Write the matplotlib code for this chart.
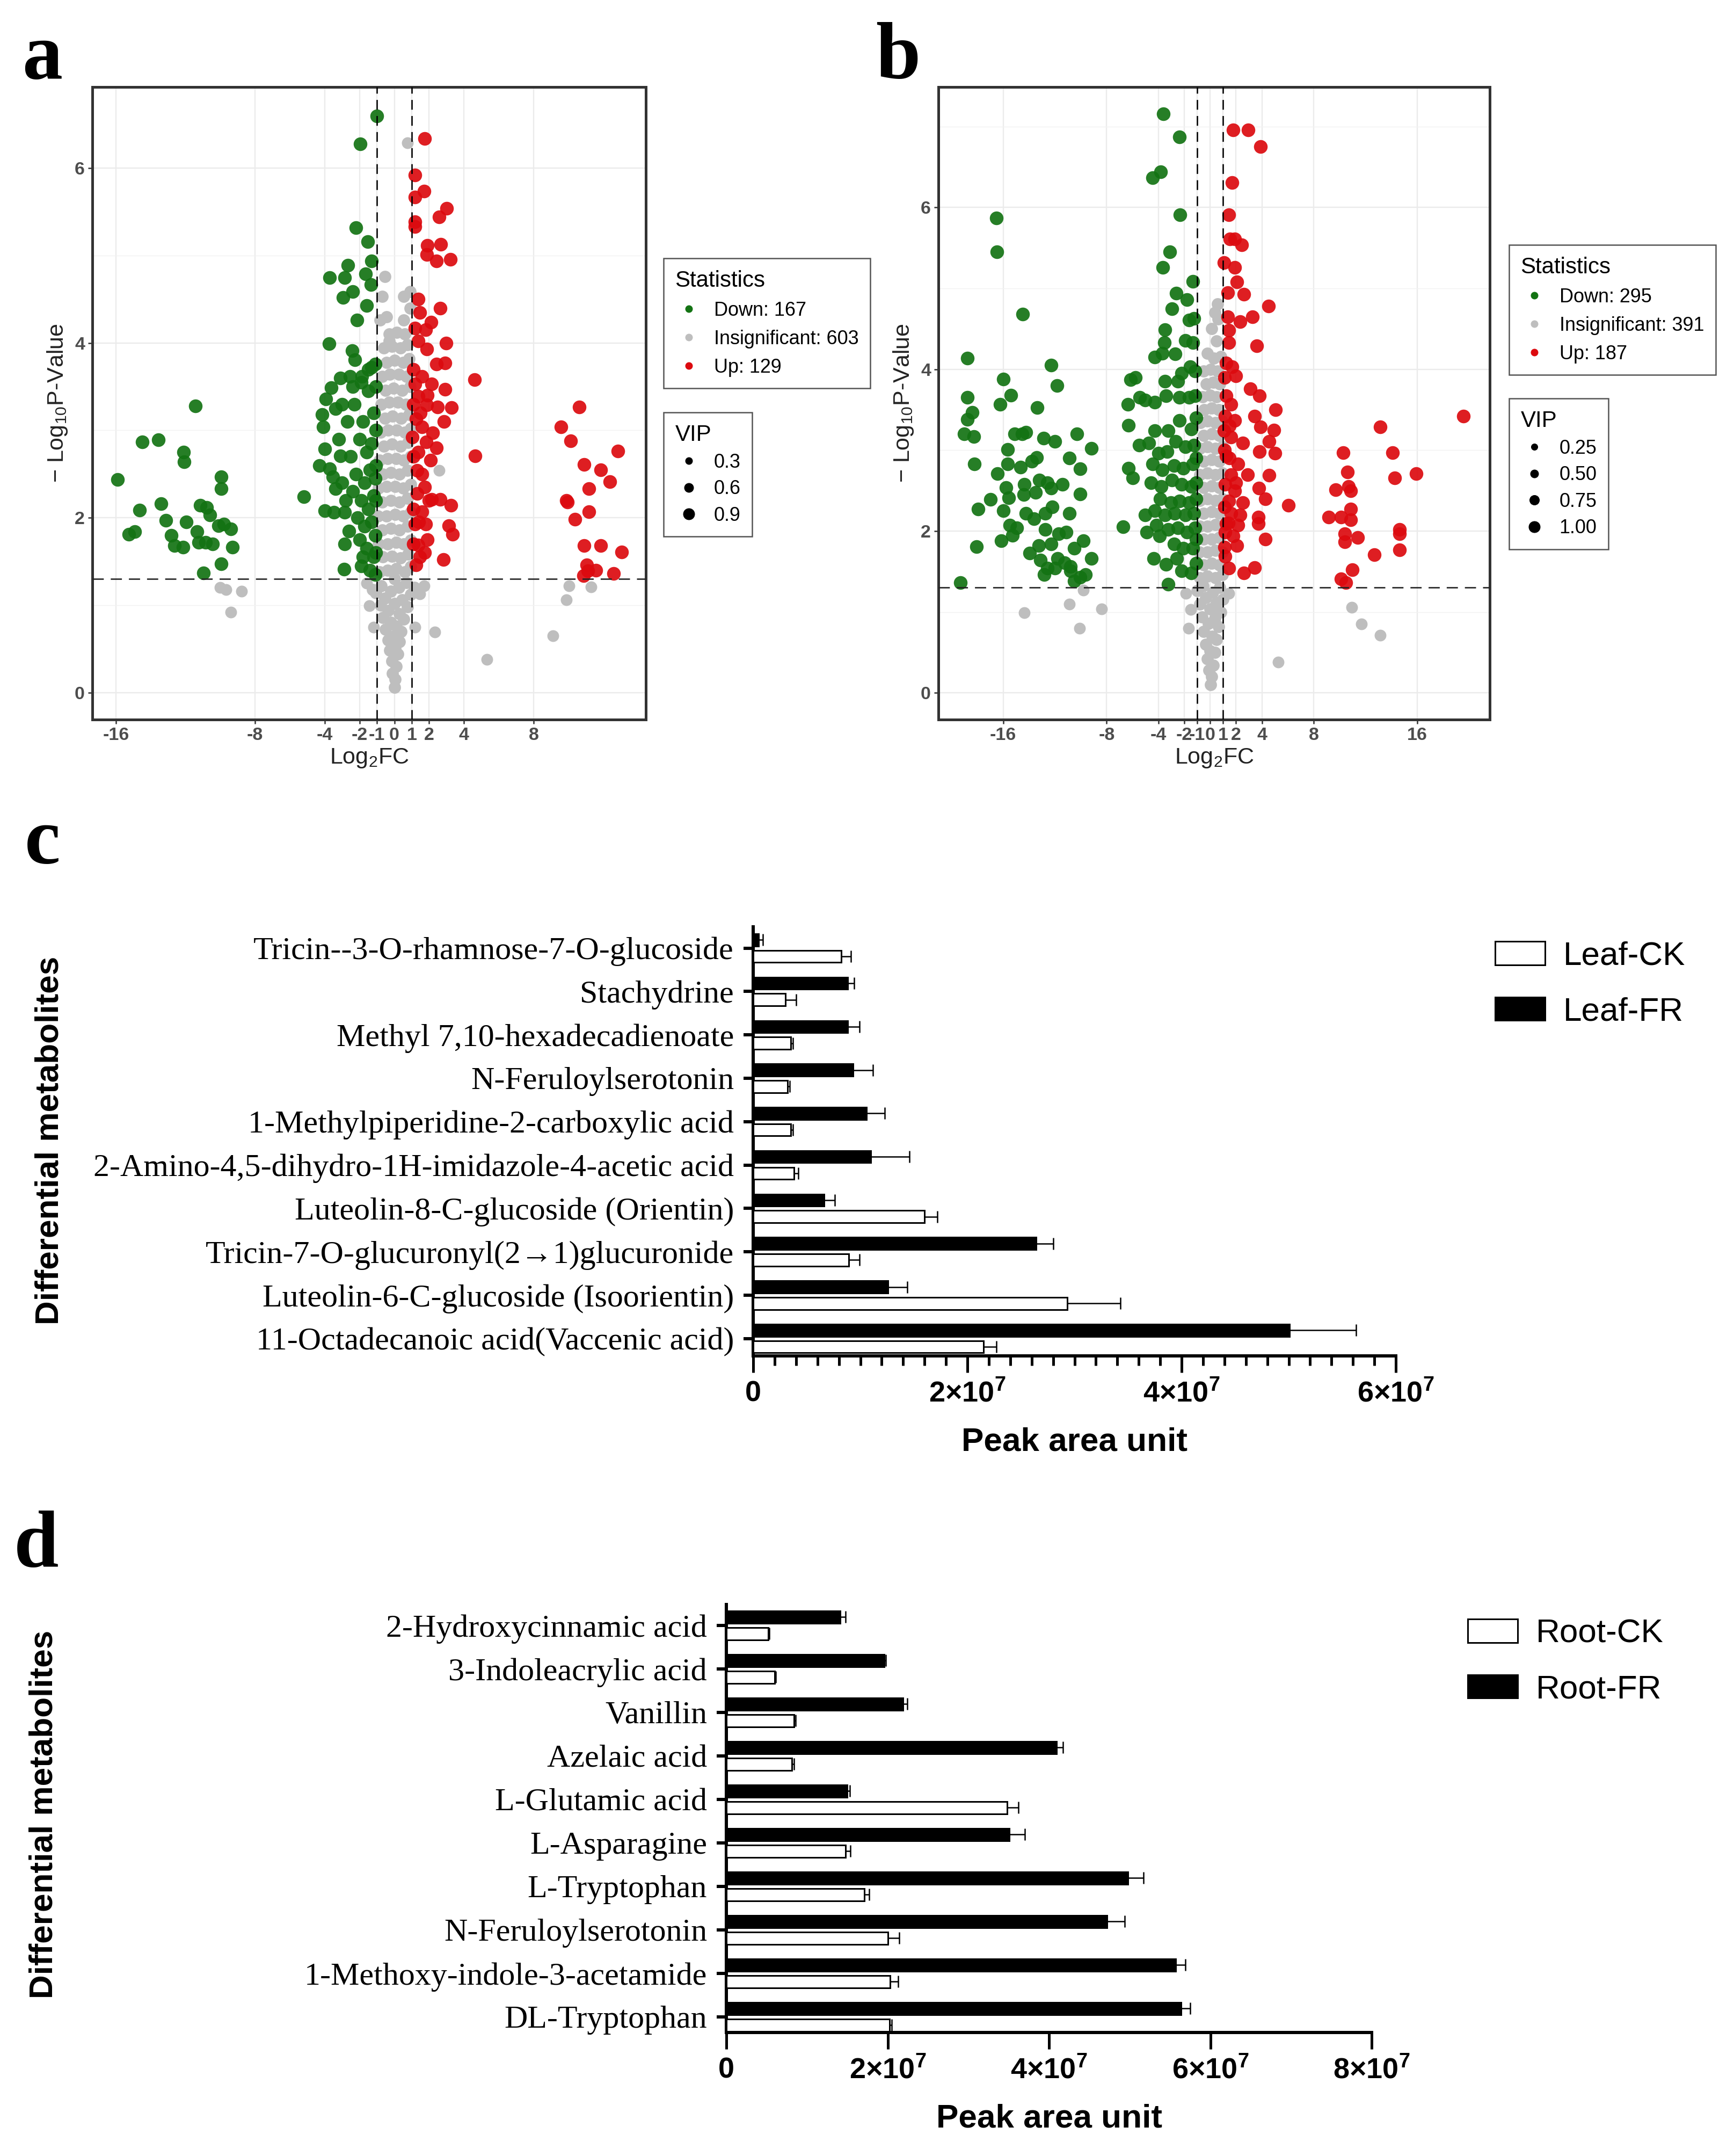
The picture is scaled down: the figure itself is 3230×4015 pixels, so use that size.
import numpy as np
import matplotlib
matplotlib.use('Agg')
import matplotlib.pyplot as plt
from matplotlib.lines import Line2D
from matplotlib.patches import Patch
from matplotlib.ticker import MultipleLocator

plt.rcParams['font.family'] = ['Liberation Sans', 'DejaVu Sans']
plt.rcParams['mathtext.default'] = 'regular'

# ---------------- data: volcano a (log2FC, -log10 p) ----------------
down_a = [(-15.9, 2.44), (-14.48, 2.87), (-13.57, 2.89), (-11.42, 3.28), (-12.12, 2.75), (-12.07, 2.64),
          (-14.65, 2.09), (-13.41, 2.16), (-15.26, 1.81), (-14.9, 1.84), (-13.11, 1.97), (-12.81, 1.80),
          (-12.63, 1.68), (-12.15, 1.66), (-11.96, 1.95), (-11.35, 1.84), (-11.16, 2.14), (-10.77, 2.12),
          (-10.58, 2.03), (-11.24, 1.72), (-10.83, 1.72), (-10.44, 1.70), (-9.95, 2.47), (-9.94, 2.33),
          (-10.11, 1.91), (-9.78, 1.93), (-9.38, 1.87), (-9.31, 1.66), (-9.94, 1.47), (-10.96, 1.37),
          (-1.01, 6.60), (-1.96, 6.28), (-2.2, 5.32), (-1.54, 5.16), (-2.67, 4.89), (-1.31, 4.94),
          (-3.72, 4.75), (-2.84, 4.75), (-1.66, 4.79), (-1.34, 4.67), (-2.39, 4.59), (-2.95, 4.52),
          (-1.60, 4.43), (-2.14, 4.26), (-3.75, 3.99), (-2.42, 3.91), (-2.28, 3.81), (-3.62, 3.49),
          (-3.94, 3.36), (-4.15, 3.18), (-4.08, 3.04), (-3.39, 3.25), (-3.11, 3.6), (-2.56, 3.62),
          (-1.87, 3.62), (-1.31, 3.72), (-1.11, 3.76), (-4.01, 2.79), (-3.11, 2.71), (-4.29, 2.60),
          (-3.73, 2.56), (-3.53, 2.47), (-3.39, 2.33), (-5.19, 2.24), (-4.0, 2.08), (-3.46, 2.06),
          (-2.86, 2.06), (-2.86, 1.70), (-2.88, 1.41), (-1.80, 1.55), (-2.3, 3.3), (-1.8, 3.1),
          (-1.5, 3.45), (-1.2, 3.2), (-2.0, 2.9), (-1.6, 2.75), (-1.3, 2.85), (-2.5, 2.7), (-2.2, 2.5),
          (-1.7, 2.4), (-1.4, 2.55), (-1.1, 2.45), (-2.4, 2.3), (-1.9, 2.2), (-1.5, 2.1), (-1.2, 2.25),
          (-2.1, 2.0), (-1.7, 1.9), (-1.3, 1.95), (-1.1, 1.8), (-2.0, 1.75), (-1.6, 1.65), (-1.2, 1.55),
          (-1.9, 1.45), (-1.4, 1.4), (-1.1, 1.35), (-2.6, 1.85), (-2.8, 2.2), (-3.0, 2.4), (-3.2, 2.9),
          (-2.7, 3.1), (-3.0, 3.3), (-2.4, 3.5), (-1.9, 3.55), (-1.5, 3.7), (-1.05, 3.5), (-1.05, 3.0),
          (-1.05, 2.6), (-1.05, 2.2), (-1.05, 1.6)]
up_a = [(1.73, 6.34), (1.20, 5.92), (1.70, 5.74), (1.18, 5.67), (3.0, 5.54), (2.59, 5.44), (1.18, 5.39),
        (1.20, 5.33), (1.91, 5.12), (2.67, 5.13), (1.87, 5.01), (2.42, 4.94), (3.21, 4.96), (1.38, 4.50),
        (2.63, 4.40), (1.48, 4.35), (2.12, 4.24), (1.20, 4.17), (1.80, 4.15), (2.97, 4.0), (1.38, 4.02),
        (1.87, 3.93), (2.42, 3.76), (2.90, 3.77), (4.61, 3.58), (1.59, 3.62), (1.18, 3.53), (2.14, 3.53),
        (2.9, 3.47), (1.38, 3.39), (1.87, 3.29), (2.49, 3.27), (3.29, 3.26), (1.24, 3.13), (2.84, 3.10),
        (1.59, 3.04), (2.21, 2.97), (1.04, 2.92), (1.84, 2.87), (2.42, 2.80), (1.38, 2.75), (4.63, 2.71),
        (2.07, 2.66), (1.31, 2.54), (1.73, 2.35), (1.31, 2.28), (2.14, 2.21), (2.63, 2.21), (3.25, 2.14),
        (1.59, 2.07), (1.18, 1.93), (1.80, 1.93), (3.14, 1.91), (3.36, 1.81), (1.38, 1.69), (1.73, 1.60),
        (2.81, 1.52), (1.24, 1.46), (1.45, 1.55), (1.1, 3.7), (1.1, 3.3), (1.1, 2.7), (1.1, 2.1),
        (1.1, 1.7), (1.6, 2.5), (1.9, 3.4), (1.5, 3.2), (2.0, 2.2), (1.4, 1.95), (1.9, 1.75),
        (10.62, 3.27), (9.58, 3.04), (10.14, 2.88), (12.86, 2.76), (10.9, 2.61), (11.87, 2.55),
        (12.38, 2.41), (11.18, 2.33), (9.89, 2.20), (9.96, 2.18), (11.18, 2.07), (10.37, 1.98),
        (10.9, 1.68), (11.87, 1.68), (13.07, 1.61), (11.07, 1.46), (11.11, 1.39), (11.58, 1.40),
        (12.59, 1.36), (10.86, 1.34)]
grey_a = [(0.0, 0.06), (0.05, 0.15), (-0.1, 0.22), (0.12, 0.3), (-0.15, 0.36), (0.2, 0.44), (-0.25, 0.48),
          (0.05, 0.5), (0.3, 0.58), (-0.35, 0.6), (-0.05, 0.64), (0.4, 0.7), (-0.5, 0.72), (0.1, 0.76),
          (-0.2, 0.8), (0.55, 0.84), (-0.65, 0.86), (0.3, 0.9), (-0.35, 0.94), (0.75, 0.98), (-0.8, 1.0),
          (0.0, 1.02), (0.45, 1.06), (-0.55, 1.08), (0.95, 1.12), (-1.05, 1.14), (-0.2, 1.16), (0.25, 1.2),
          (-0.75, 1.22), (0.7, 1.26), (-1.25, 1.18), (1.15, 1.2), (0.0, 1.3),
          (-0.85, 1.38), (-0.4, 1.4), (0.1, 1.42), (0.6, 1.38), (0.95, 1.44),
          (-0.65, 1.55), (-0.15, 1.56), (0.35, 1.54), (0.8, 1.58),
          (-0.9, 1.7), (-0.4, 1.7), (0.1, 1.72), (0.55, 1.7), (0.95, 1.74),
          (-0.7, 1.86), (-0.2, 1.88), (0.3, 1.86), (0.75, 1.9),
          (-0.95, 2.02), (-0.45, 2.02), (0.05, 2.04), (0.5, 2.02), (0.95, 2.06),
          (-0.7, 2.18), (-0.2, 2.2), (0.3, 2.18), (0.75, 2.22),
          (-0.9, 2.34), (-0.45, 2.36), (0.05, 2.36), (0.5, 2.34), (0.95, 2.38),
          (-0.65, 2.5), (-0.2, 2.52), (0.3, 2.5), (0.75, 2.54),
          (-0.85, 2.66), (-0.4, 2.68), (0.1, 2.68), (0.55, 2.66), (0.95, 2.7),
          (-0.6, 2.82), (-0.15, 2.84), (0.35, 2.82), (0.8, 2.86),
          (-0.8, 2.98), (-0.35, 3.0), (0.15, 3.0), (0.6, 2.98), (0.95, 3.02),
          (-0.55, 3.14), (-0.1, 3.16), (0.4, 3.14), (0.85, 3.18),
          (-0.75, 3.3), (-0.3, 3.32), (0.2, 3.32), (0.65, 3.3),
          (-0.5, 3.46), (-0.05, 3.48), (0.45, 3.46), (0.9, 3.5),
          (-0.7, 3.62), (-0.25, 3.64), (0.25, 3.64), (0.7, 3.62),
          (-0.45, 3.78), (0.0, 3.8), (0.5, 3.78), (0.85, 3.82),
          (-0.6, 3.94), (-0.15, 3.96), (0.35, 3.94), (0.75, 3.98),
          (-0.3, 4.1), (0.15, 4.12), (0.6, 4.1), (-0.45, 4.3), (0.55, 4.26), (0.9, 4.4),
          (-0.7, 4.53), (0.55, 4.53), (-0.55, 4.76), (0.9, 4.59), (-0.83, 4.26), (-0.28, 4.02)]
grey_out_a = [(0.76, 6.29), (2.56, 2.54), (-10.0, 1.20), (-9.67, 1.18), (-8.77, 1.16), (-9.4, 0.92),
              (10.03, 1.22), (11.31, 1.21), (9.89, 1.06), (9.1, 0.65), (5.33, 0.38), (2.32, 0.69),
              (-1.45, 0.99), (-1.18, 0.75), (1.18, 0.75), (1.45, 1.13), (-1.6, 1.25), (1.7, 1.22)]

# ---------------- data: volcano b ----------------
down_b = [(-19.29, 1.36), (-18.77, 4.14), (-18.77, 3.65), (-18.37, 3.47), (-18.74, 3.38), (-18.99, 3.20),
          (-18.25, 3.17), (-18.22, 2.83), (-17.93, 2.27), (-18.04, 1.81), (-16.52, 5.87), (-16.47, 5.45),
          (-14.47, 4.68), (-16.0, 3.88), (-15.41, 3.68), (-16.22, 3.57), (-13.36, 3.53), (-12.3, 4.05),
          (-11.85, 3.80), (-15.11, 3.20), (-14.52, 3.20), (-14.22, 3.22), (-12.89, 3.15), (-12.0, 3.11),
          (-10.30, 3.20), (-9.19, 3.02), (-15.66, 3.01), (-15.63, 2.83), (-16.44, 2.71), (-14.67, 2.79),
          (-13.78, 2.86), (-13.41, 2.91), (-10.89, 2.90), (-10.07, 2.77), (-15.78, 2.54), (-14.37, 2.58),
          (-13.19, 2.63), (-12.59, 2.60), (-11.41, 2.58), (-16.96, 2.39), (-15.56, 2.41), (-14.40, 2.45),
          (-13.48, 2.48), (-12.3, 2.53), (-10.04, 2.46), (-16.0, 2.25), (-14.22, 2.22), (-13.63, 2.15),
          (-12.74, 2.22), (-12.22, 2.30), (-10.89, 2.22), (-15.48, 2.07), (-14.96, 2.04), (-16.15, 1.88),
          (-15.26, 1.95), (-13.93, 1.73), (-13.26, 1.82), (-12.74, 2.02), (-12.3, 1.84), (-11.70, 1.97),
          (-11.11, 1.99), (-10.52, 1.79), (-9.78, 1.88), (-13.11, 1.64), (-12.59, 1.54), (-11.78, 1.66),
          (-11.26, 1.61), (-10.81, 1.56), (-9.19, 1.66), (-12.84, 1.46), (-12.0, 1.54), (-10.52, 1.38),
          (-10.07, 1.43), (-9.63, 1.46), (-10.81, 1.51),
          (-3.63, 7.16), (-2.37, 6.87), (-4.44, 6.37), (-3.82, 6.44), (-2.34, 5.91), (-3.11, 5.45),
          (-3.67, 5.26), (-1.33, 5.09), (-2.62, 4.94), (-1.81, 4.86), (-2.96, 4.75), (-1.63, 4.61),
          (-1.26, 4.63), (-3.51, 4.49), (-3.53, 4.33), (-4.27, 4.15), (-3.70, 4.20), (-2.70, 4.19),
          (-1.93, 4.36), (-1.33, 4.33), (-6.15, 3.87), (-5.78, 3.90), (-6.34, 3.57), (-5.45, 3.65),
          (-5.04, 3.62), (-6.3, 3.31), (-4.30, 3.59), (-3.48, 3.85), (-3.41, 3.67), (-2.52, 3.85),
          (-2.22, 3.95), (-1.56, 4.03), (-1.19, 3.98), (-2.37, 3.65), (-1.63, 3.65), (-1.19, 3.67),
          (-4.30, 3.24), (-3.26, 3.24), (-2.37, 3.37), (-1.48, 3.26), (-5.48, 3.06), (-4.74, 3.09),
          (-3.99, 2.96), (-3.33, 2.98), (-2.67, 3.11), (-1.93, 3.04), (-1.26, 3.06), (-4.44, 2.83),
          (-3.70, 2.76), (-2.81, 2.81), (-2.07, 2.78), (-1.33, 2.83), (-6.30, 2.78), (-6.0, 2.66),
          (-4.59, 2.60), (-3.78, 2.55), (-2.96, 2.63), (-2.22, 2.58), (-1.48, 2.55), (-3.85, 2.40),
          (-3.04, 2.35), (-2.37, 2.37), (-1.63, 2.35), (-1.11, 2.40), (-5.04, 2.20), (-4.30, 2.25),
          (-3.48, 2.20), (-2.74, 2.22), (-1.93, 2.20), (-1.26, 2.22), (-6.74, 2.05), (-4.89, 1.99),
          (-4.15, 2.07), (-3.26, 2.02), (-2.52, 2.04), (-1.78, 1.99), (-1.19, 2.04), (-3.93, 1.94),
          (-2.81, 1.84), (-2.07, 1.79), (-1.33, 1.79), (-4.37, 1.66), (-3.41, 1.59), (-2.59, 1.66),
          (-2.22, 1.51), (-1.48, 1.48), (-3.26, 1.34), (-1.1, 3.4), (-1.1, 2.9), (-1.1, 2.6),
          (-1.1, 1.9), (-1.1, 1.6)]
up_b = [(1.79, 6.96), (2.93, 6.96), (3.90, 6.75), (1.70, 6.31), (1.43, 5.91), (1.52, 5.61), (1.89, 5.61),
        (2.44, 5.54), (1.06, 5.32), (1.89, 5.26), (2.07, 5.08), (1.34, 4.95), (2.62, 4.93), (4.51, 4.78),
        (1.34, 4.65), (2.31, 4.59), (3.26, 4.65), (1.43, 4.48), (1.43, 4.33), (3.59, 4.29), (1.25, 4.08),
        (1.70, 4.03), (1.98, 3.92), (3.08, 3.76), (3.81, 3.67), (1.25, 3.67), (1.61, 3.57), (5.05, 3.50),
        (3.44, 3.42), (1.15, 3.42), (1.89, 3.37), (3.9, 3.29), (4.91, 3.25), (1.06, 3.24), (1.61, 3.16),
        (2.53, 3.09), (4.54, 3.11), (3.81, 2.98), (5.0, 2.96), (1.25, 2.93), (2.16, 2.83), (1.61, 2.70),
        (2.89, 2.70), (4.54, 2.69), (1.15, 2.58), (1.89, 2.50), (3.77, 2.53), (1.43, 2.37), (2.53, 2.35),
        (4.26, 2.40), (6.06, 2.32), (1.61, 2.22), (3.72, 2.17), (1.25, 2.09), (2.16, 2.07), (3.72, 2.09),
        (1.15, 1.99), (1.79, 1.94), (4.27, 1.90), (2.07, 1.82), (1.43, 1.54), (2.62, 1.48), (3.44, 1.55),
        (1.15, 1.69), (1.1, 3.9), (1.1, 3.0), (1.1, 2.3), (1.1, 1.8), (1.5, 3.3), (1.5, 2.9), (2.0, 2.6),
        (1.4, 2.1), (2.3, 2.2),
        (19.56, 3.42), (13.15, 3.29), (10.27, 2.97), (14.1, 2.97), (10.62, 2.73), (15.9, 2.71),
        (14.25, 2.66), (9.71, 2.51), (10.68, 2.55), (10.86, 2.50), (9.16, 2.17), (10.13, 2.17),
        (10.86, 2.27), (10.86, 2.14), (10.4, 1.97), (11.41, 1.92), (10.4, 1.87), (14.62, 2.02),
        (14.62, 1.97), (14.65, 1.77), (12.69, 1.71), (10.99, 1.52), (10.09, 1.41), (10.49, 1.36)]
grey_b = [(0.05, 0.1), (0.1, 0.2), (-0.1, 0.28), (0.25, 0.34), (-0.2, 0.42), (0.35, 0.5), (0.0, 0.52),
          (-0.35, 0.6), (0.5, 0.66), (0.15, 0.7), (-0.5, 0.76), (0.65, 0.82), (-0.15, 0.86), (0.35, 0.92),
          (-0.65, 0.94), (0.8, 1.0), (0.0, 1.04), (-0.8, 1.1), (0.5, 1.12), (-0.35, 1.18), (1.0, 1.16),
          (0.2, 1.24), (-1.0, 1.26), (0.75, 1.3), (-0.55, 1.32),
          (-0.8, 1.42), (-0.2, 1.44), (0.4, 1.42), (0.95, 1.46), (-0.5, 1.58), (0.1, 1.6), (0.7, 1.58),
          (-0.85, 1.74), (-0.2, 1.74), (0.4, 1.76), (0.95, 1.74), (-0.5, 1.9), (0.1, 1.9), (0.7, 1.92),
          (-0.8, 2.06), (-0.2, 2.06), (0.4, 2.08), (0.95, 2.06), (-0.5, 2.22), (0.1, 2.24), (0.7, 2.22),
          (-0.8, 2.38), (-0.2, 2.4), (0.4, 2.38), (0.95, 2.4), (-0.5, 2.54), (0.1, 2.56), (0.7, 2.54),
          (-0.8, 2.7), (-0.2, 2.72), (0.4, 2.7), (0.95, 2.72), (-0.5, 2.86), (0.1, 2.88), (0.7, 2.86),
          (-0.8, 3.02), (-0.2, 3.04), (0.4, 3.02), (0.95, 3.04), (-0.5, 3.18), (0.1, 3.2), (0.7, 3.18),
          (-0.75, 3.34), (-0.2, 3.36), (0.4, 3.34), (0.9, 3.36), (-0.45, 3.5), (0.1, 3.52), (0.65, 3.5),
          (-0.6, 3.66), (0.0, 3.68), (0.5, 3.66), (-0.3, 3.82), (0.25, 3.84), (0.75, 3.82),
          (-0.5, 3.98), (0.05, 4.0), (0.55, 3.98), (0.3, 4.14), (0.8, 4.16), (-0.2, 4.2),
          (0.5, 4.35), (0.1, 4.5), (0.6, 4.62), (0.57, 4.81), (0.35, 4.7)]
grey_out_b = [(-14.37, 0.99), (-10.89, 1.10), (-10.1, 0.80), (-8.37, 1.04), (-9.78, 1.27), (10.95, 1.06),
              (11.68, 0.85), (13.15, 0.71), (5.27, 0.38), (-1.5, 1.03), (-1.68, 0.8), (1.43, 1.23),
              (-1.87, 1.23)]

stats_a = ['Down: 167', 'Insignificant: 603', 'Up: 129']
stats_b = ['Down: 295', 'Insignificant: 391', 'Up: 187']
vip_a = ['0.3', '0.6', '0.9']
vip_b = ['0.25', '0.50', '0.75', '1.00']

# ---------------- data: bar panels (peak area, x1e7), listed top to bottom ----------------
leaf_names = ['Tricin--3-O-rhamnose-7-O-glucoside', 'Stachydrine', 'Methyl 7,10-hexadecadienoate',
              'N-Feruloylserotonin', '1-Methylpiperidine-2-carboxylic acid',
              '2-Amino-4,5-dihydro-1H-imidazole-4-acetic acid', 'Luteolin-8-C-glucoside (Orientin)',
              'Tricin-7-O-glucuronyl(2\u21921)glucuronide', 'Luteolin-6-C-glucoside (Isoorientin)',
              '11-Octadecanoic acid(Vaccenic acid)']
leaf_fr = [0.05, 0.88, 0.88, 0.93, 1.06, 1.10, 0.66, 2.64, 1.26, 5.01]
leaf_fr_err = [0.04, 0.06, 0.11, 0.19, 0.17, 0.36, 0.10, 0.16, 0.18, 0.62]
leaf_ck = [0.82, 0.30, 0.35, 0.32, 0.35, 0.38, 1.60, 0.89, 2.93, 2.15]
leaf_ck_err = [0.09, 0.10, 0.02, 0.02, 0.02, 0.04, 0.12, 0.10, 0.50, 0.12]

root_names = ['2-Hydroxycinnamic acid', '3-Indoleacrylic acid', 'Vanillin', 'Azelaic acid',
              'L-Glutamic acid', 'L-Asparagine', 'L-Tryptophan', 'N-Feruloylserotonin',
              '1-Methoxy-indole-3-acetamide', 'DL-Tryptophan']
root_fr = [1.41, 1.96, 2.19, 4.09, 1.50, 3.51, 4.98, 4.72, 5.57, 5.64]
root_fr_err = [0.07, 0.02, 0.05, 0.08, 0.03, 0.19, 0.19, 0.22, 0.12, 0.11]
root_ck = [0.52, 0.60, 0.84, 0.81, 3.48, 1.48, 1.71, 2.00, 2.03, 2.02]
root_ck_err = [0.01, 0.01, 0.02, 0.03, 0.14, 0.06, 0.06, 0.14, 0.10, 0.03]

GREEN = '#137313'
RED = '#DC0A0F'
GREY = '#BEBEBE'

W, H = 3230, 4015
DPI = 72
fig = plt.figure(figsize=(W / DPI, H / DPI), dpi=DPI)


def box(x0, y0, x1, y1):
    # pixel box (top-left origin) -> figure fraction rect
    return [x0 / W, 1 - y1 / H, (x1 - x0) / W, (y1 - y0) / H]


def volcano(rect, grey, grey_out, down, up, xticks, xlim, ylim, yminor, stats, vips, vip_ms,
            leg1_xy, leg2_xy):
    ax = fig.add_axes(rect)
    gx, gy = zip(*grey)
    ax.scatter(gx, gy, s=520, c=GREY, linewidths=0, zorder=2)
    ox, oy = zip(*grey_out)
    ax.scatter(ox, oy, s=480, c=GREY, linewidths=0, zorder=2)
    dx, dy = zip(*down)
    ax.scatter(dx, dy, s=650, c=GREEN, alpha=0.92, linewidths=0, zorder=3)
    ux, uy = zip(*up)
    ax.scatter(ux, uy, s=650, c=RED, alpha=0.92, linewidths=0, zorder=3)

    ax.axvline(-1, color='black', lw=2.6, ls=(0, (7, 4.5)), zorder=4)
    ax.axvline(1, color='black', lw=2.6, ls=(0, (7, 4.5)), zorder=4)
    ax.axhline(-np.log10(0.05), color='#222222', lw=2.6, ls=(0, (8, 5)), zorder=4)

    ax.set_xlim(*xlim)
    ax.set_ylim(*ylim)
    ax.set_xticks(xticks)
    ax.set_xticklabels([str(t) for t in xticks])
    ax.set_yticks([0, 2, 4, 6])
    ax.set_yticks(yminor, minor=True)
    ax.grid(which='major', color='#EBEBEB', lw=2.4)
    ax.grid(which='minor', axis='y', color='#F2F2F2', lw=1.4)
    ax.set_axisbelow(True)
    ax.tick_params(which='major', labelsize=34, labelcolor='#4D4D4D', color='#333333',
                   length=8, width=2.5, pad=6)
    ax.tick_params(which='minor', length=0)
    for t in ax.get_xticklabels() + ax.get_yticklabels():
        t.set_fontweight('bold')
    for sp in ax.spines.values():
        sp.set_linewidth(5)
        sp.set_color('#333333')
    ax.set_xlabel('Log$_2$FC', fontsize=43, color='#222222', labelpad=6)
    ax.set_ylabel('\u2212 Log$_{10}$P-Value', fontsize=43, color='#222222', labelpad=10)

    h1 = [Line2D([0], [0], marker='o', ls='', color=c, markersize=13) for c in (GREEN, GREY, RED)]
    leg1 = ax.legend(handles=h1, labels=stats, title='Statistics', loc='upper left',
                     bbox_to_anchor=leg1_xy, bbox_transform=fig.transFigure, borderaxespad=0,
                     fontsize=36, title_fontsize=42, fancybox=False, edgecolor='#555555',
                     borderpad=0.6, handlelength=1.4, handletextpad=0.6, labelspacing=0.5,
                     alignment='left', framealpha=1)
    leg1.get_frame().set_linewidth(2.5)
    ax.add_artist(leg1)
    h2 = [Line2D([0], [0], marker='o', ls='', color='black', markersize=m) for m in vip_ms]
    leg2 = ax.legend(handles=h2, labels=vips, title='VIP', loc='upper left',
                     bbox_to_anchor=leg2_xy, bbox_transform=fig.transFigure, borderaxespad=0,
                     fontsize=36, title_fontsize=42, fancybox=False, edgecolor='#555555',
                     borderpad=0.6, handlelength=1.4, handletextpad=0.6, labelspacing=0.4,
                     alignment='left', framealpha=1)
    leg2.get_frame().set_linewidth(2.5)
    return ax


volcano(box(172, 162, 1203, 1340), grey_a, grey_out_a, down_a, up_a,
        [-16, -8, -4, -2, -1, 0, 1, 2, 4, 8], (-17.35, 14.45), (-0.31, 6.93), [1, 3, 5],
        stats_a, vip_a, [13, 17, 21],
        (1236 / W, 1 - 481 / H), (1236 / W, 1 - 768 / H))
volcano(box(1748, 162, 2775, 1340), grey_b, grey_out_b, down_b, up_b,
        [-16, -8, -4, -2, -1, 0, 1, 2, 4, 8, 16], (-21.0, 21.6), (-0.33, 7.49), [1, 3, 5, 7],
        stats_b, vip_b, [12, 15, 18, 21],
        (2811 / W, 1 - 456 / H), (2811 / W, 1 - 742 / H))


def bars(rect, names, ck, ck_err, fr, fr_err, xmax, minor, ylim, labels, leg_xy, ylab_xy):
    ax = fig.add_axes(rect)
    pos = np.arange(len(names))[::-1]
    scale = 1e7
    ck = np.array(ck) * scale
    fr = np.array(fr) * scale
    ck_e = np.array(ck_err) * scale
    fr_e = np.array(fr_err) * scale
    ax.barh(pos - 0.19, ck, height=0.28, color='white', edgecolor='black', linewidth=3,
            xerr=[np.zeros_like(ck_e), ck_e],
            error_kw=dict(ecolor='black', elinewidth=2.5, capsize=11, capthick=2.5), zorder=3)
    ax.barh(pos + 0.19, fr, height=0.28, color='black', edgecolor='black', linewidth=3,
            xerr=[np.zeros_like(fr_e), fr_e],
            error_kw=dict(ecolor='black', elinewidth=2.5, capsize=11, capthick=2.5), zorder=3)
    ax.set_xlim(0, xmax)
    ax.set_ylim(*ylim)
    ax.set_yticks(pos)
    ax.set_yticklabels(names, family=['Liberation Serif', 'DejaVu Serif'], fontsize=60)
    ticks = np.arange(0, xmax + 1, 2e7)
    ax.set_xticks(ticks)
    ax.set_xticklabels(['0'] + ['%d\u00d710$^7$' % (t / 1e7) for t in ticks[1:]],
                       fontsize=54, fontweight='bold')
    if minor:
        ax.xaxis.set_minor_locator(MultipleLocator(2e6))
        ax.tick_params(axis='x', which='minor', length=18, width=5)
    ax.tick_params(axis='x', which='major', length=31, width=5, pad=14)
    ax.tick_params(axis='y', which='major', length=18, width=6, pad=18)
    for s in ('top', 'right'):
        ax.spines[s].set_visible(False)
    for s in ('left', 'bottom'):
        ax.spines[s].set_linewidth(6)
    ax.set_xlabel('Peak area unit', fontsize=62, fontweight='bold', labelpad=36)
    fig.text(ylab_xy[0], ylab_xy[1], 'Differential metabolites', rotation=90, fontsize=62,
             fontweight='bold', ha='center', va='center')
    handles = [Patch(facecolor='white', edgecolor='black', linewidth=3),
               Patch(facecolor='black', edgecolor='black', linewidth=3)]
    ax.legend(handles=handles, labels=labels, loc='center left', bbox_to_anchor=leg_xy,
              bbox_transform=fig.transFigure, frameon=False, fontsize=62, borderpad=0,
              borderaxespad=0, handlelength=1.5, handleheight=0.7, handletextpad=0.55,
              labelspacing=0.75)
    return ax


bars(box(1403, 1726, 2600, 2525), leaf_names, leaf_ck, leaf_ck_err, leaf_fr, leaf_fr_err,
     6e7, True, (-0.4, 9.49), ['Leaf-CK', 'Leaf-FR'], (2785 / W, 1 - 1833 / H),
     (93 / W, 1 - 2124 / H))
bars(box(1353, 2988, 2555, 3785), root_names, root_ck, root_ck_err, root_fr, root_fr_err,
     8e7, False, (-0.36, 9.48), ['Root-CK', 'Root-FR'], (2734 / W, 1 - 3095 / H),
     (82 / W, 1 - 3379 / H))

# panel letters
for letter, x, y in [('a', 41, 146), ('b', 1631, 146), ('c', 46, 1608), ('d', 26, 2918)]:
    fig.text(x / W, 1 - y / H, letter, fontsize=150, fontweight='bold',
             family=['Liberation Serif', 'DejaVu Serif'], ha='left', va='baseline')

fig.savefig('out.png', dpi=DPI, facecolor='white')
